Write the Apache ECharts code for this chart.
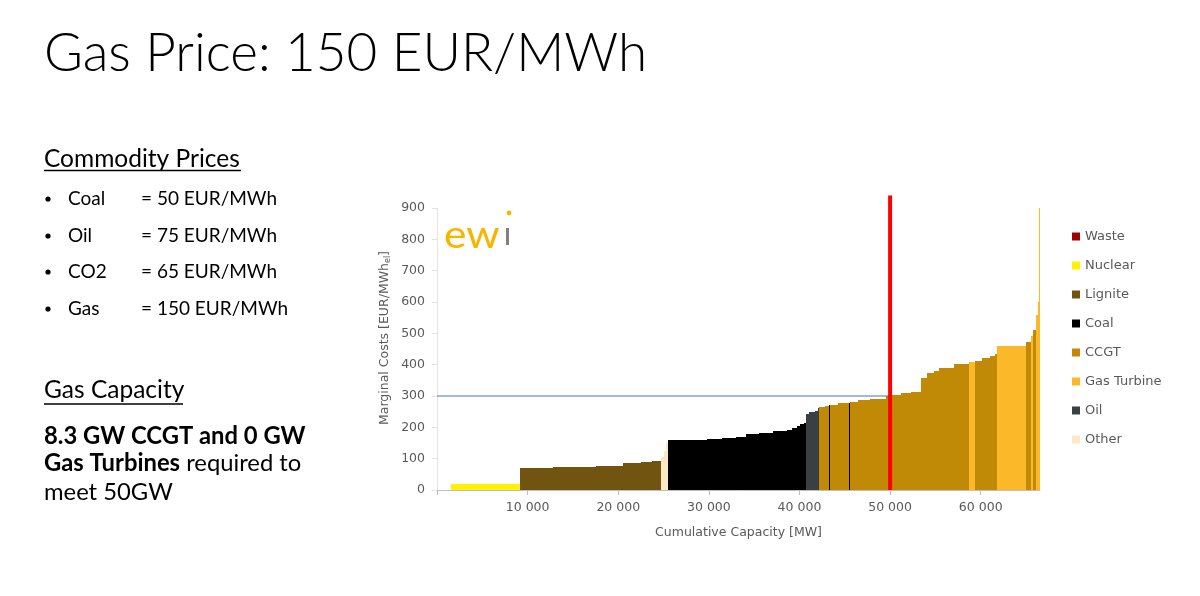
<!DOCTYPE html>
<html><head><meta charset="utf-8">
<script src="https://cdn.jsdelivr.net/npm/echarts@6/dist/echarts.min.js"></script>
<style>html,body{margin:0;padding:0;background:#fff}#c{width:1200px;height:596px}</style>
</head><body><div id="c"></div>
<script>
// Each block: [fromMW, toMW, marginal cost EUR/MWh]
const techNames = ['Waste', 'Nuclear', 'Lignite', 'Coal', 'CCGT', 'Gas Turbine', 'Oil', 'Other'];
const waste = [];
const nuclear = [[1600, 9130, 18]];
const lignite = [
  [9130, 10500, 69], [10500, 12800, 70], [12800, 15000, 73], [15000, 17500, 74],
  [17500, 20500, 76], [20500, 21000, 85], [21000, 22500, 87], [22500, 23700, 89], [23700, 24700, 93]
];
const other = [[24700, 25000, 105], [25000, 25250, 125], [25250, 25450, 150]];
const coal = [
  [25450, 27500, 158], [27500, 29800, 160], [29800, 31500, 163], [31500, 33000, 166],
  [33000, 34100, 169], [34100, 35500, 178], [35500, 37100, 182], [37100, 38600, 187],
  [38600, 39200, 192], [39200, 39700, 198], [39700, 40100, 203], [40100, 40450, 210], [40450, 40700, 215],
  [43300, 43400, 270], [45500, 45600, 279], [49500, 49580, 293], [51150, 51250, 305]
];
const oil = [[40700, 41000, 242], [41000, 41700, 248], [41700, 42000, 253], [42000, 42200, 262]];
const ccgt = [
  [42200, 42800, 265], [42800, 43300, 268], [43400, 44200, 272], [44200, 45500, 277],
  [45600, 46500, 282], [46500, 47800, 287], [47800, 49500, 292], [49580, 50200, 300],
  [50200, 51150, 303], [51250, 52300, 308], [52300, 53400, 314], [53400, 54100, 358],
  [54100, 54800, 372], [54800, 55400, 380], [55400, 57000, 390], [57000, 58700, 402],
  [59400, 60100, 412], [60100, 61000, 420], [61000, 61550, 428], [61550, 61830, 435],
  [65000, 65600, 472], [65800, 66100, 510]
];
const gasTurbine = [
  [58700, 59400, 408], [61830, 65000, 460], [65600, 65800, 490],
  [66100, 66350, 560], [66350, 66460, 600], [66460, 66540, 900]
];
const demandMW = 50000;
const priceAtDemand = 300;
const xMax = 66540;

const colors = {
  'Waste': '#A00000', 'Nuclear': '#FFF200', 'Lignite': '#705410', 'Coal': '#000000',
  'CCGT': '#C08A06', 'Gas Turbine': '#FBB829', 'Oil': '#3A3F44', 'Other': '#FCE8C7'
};
const dataByTech = {
  'Waste': waste, 'Nuclear': nuclear, 'Lignite': lignite, 'Coal': coal,
  'CCGT': ccgt, 'Gas Turbine': gasTurbine, 'Oil': oil, 'Other': other
};

const chart = echarts.init(document.getElementById('c'), null, {renderer: 'canvas'});
const axisFont = 'DejaVu Sans';
const grey = '#595959';

function makeRender(color) {
  return function (params, api) {
    const p0 = api.coord([api.value(0), api.value(2)]);
    const p1 = api.coord([api.value(1), 0]);
    const x0 = Math.round(p0[0]);
    const x1 = Math.max(x0 + 1, Math.round(p1[0]));
    const y0 = Math.round(p0[1]);
    const y1 = Math.round(p1[1]);
    return {
      type: 'rect',
      shape: {x: x0, y: y0, width: x1 - x0, height: y1 - y0},
      style: {fill: color}
    };
  };
}

const series = techNames.map(n => ({
  type: 'custom', name: n, data: dataByTech[n],
  encode: {x: [0, 1], y: 2},
  itemStyle: {color: colors[n]},
  renderItem: makeRender(colors[n]),
  silent: true
}));
series.push({
  type: 'line', name: 'price', data: [[0, priceAtDemand], [demandMW, priceAtDemand]],
  showSymbol: false, lineStyle: {color: '#4472C4', width: 1}, z: 4, silent: true
});
series.push({
  type: 'line', name: 'demand', data: [[demandMW, 0], [demandMW, 940]],
  showSymbol: false, clip: false, lineStyle: {color: '#FF0000', width: 4}, z: 5, silent: true
});

const fmt = v => v === 0 ? '' : String(v).replace(/\B(?=(\d{3})+(?!\d))/g, ' ');
const bodyFont = 'Lato';

chart.setOption({
  backgroundColor: '#ffffff',
  animation: false,
  grid: {left: 437, right: 160, top: 208, bottom: 106, containLabel: false},
  xAxis: {
    type: 'value', min: 0, max: xMax, interval: 10000,
    name: 'Cumulative Capacity [MW]', nameLocation: 'middle', nameGap: 36,
    nameTextStyle: {color: grey, fontFamily: axisFont, fontSize: 12.5},
    axisLine: {show: true, lineStyle: {color: '#BFBFBF'}},
    axisTick: {show: true, length: 5, lineStyle: {color: '#BFBFBF'}},
    axisLabel: {color: grey, fontFamily: axisFont, fontSize: 12.5, margin: 11, formatter: fmt, showMaxLabel: false},
    splitLine: {show: false}
  },
  yAxis: {
    type: 'value', min: 0, max: 900, interval: 100,
    axisLine: {show: true, lineStyle: {color: '#E3E3E3'}},
    axisTick: {show: true, length: 5, lineStyle: {color: '#E3E3E3'}},
    axisLabel: {color: grey, fontFamily: axisFont, fontSize: 12.5, margin: 12},
    splitLine: {show: false}
  },
  legend: {
    orient: 'vertical', left: 1067, top: 225, itemWidth: 8, itemHeight: 8, itemGap: 16,
    icon: 'rect', data: techNames,
    textStyle: {color: grey, fontFamily: axisFont, fontSize: 13}
  },
  series: series,
  graphic: [
    {type: 'text', left: 44, top: 27, style: {text: 'Gas Price: 150 EUR/MWh', fontFamily: bodyFont, fontWeight: 300, fontSize: 53, fill: '#000'}},
    {type: 'text', left: 44, top: 147, style: {text: 'Commodity Prices', fontFamily: bodyFont, fontSize: 24.5, fill: '#000'}},
    {type: 'line', shape: {x1: 44, y1: 170.5, x2: 241, y2: 170.5}, style: {stroke: '#000', lineWidth: 1.5}},
    {type: 'circle', shape: {cx: 48, cy: 199, r: 2.6}, style: {fill: '#000'}},
    {type: 'circle', shape: {cx: 48, cy: 236, r: 2.6}, style: {fill: '#000'}},
    {type: 'circle', shape: {cx: 48, cy: 272, r: 2.6}, style: {fill: '#000'}},
    {type: 'circle', shape: {cx: 48, cy: 309, r: 2.6}, style: {fill: '#000'}},
    {type: 'text', left: 68, top: 189, style: {text: 'Coal', fontFamily: bodyFont, fontSize: 19, fill: '#000'}},
    {type: 'text', left: 68, top: 226, style: {text: 'Oil', fontFamily: bodyFont, fontSize: 19, fill: '#000'}},
    {type: 'text', left: 68, top: 262, style: {text: 'CO2', fontFamily: bodyFont, fontSize: 19, fill: '#000'}},
    {type: 'text', left: 68, top: 299, style: {text: 'Gas', fontFamily: bodyFont, fontSize: 19, fill: '#000'}},
    {type: 'text', left: 141, top: 189, style: {text: '= 50 EUR/MWh', fontFamily: bodyFont, fontSize: 19, fill: '#000'}},
    {type: 'text', left: 141, top: 226, style: {text: '= 75 EUR/MWh', fontFamily: bodyFont, fontSize: 19, fill: '#000'}},
    {type: 'text', left: 141, top: 262, style: {text: '= 65 EUR/MWh', fontFamily: bodyFont, fontSize: 19, fill: '#000'}},
    {type: 'text', left: 141, top: 299, style: {text: '= 150 EUR/MWh', fontFamily: bodyFont, fontSize: 19, fill: '#000'}},
    {type: 'text', left: 44, top: 378, style: {text: 'Gas Capacity', fontFamily: bodyFont, fontSize: 24.5, fill: '#000'}},
    {type: 'line', shape: {x1: 44, y1: 404, x2: 183, y2: 404}, style: {stroke: '#000', lineWidth: 1.5}},
    {type: 'text', left: 44, top: 424, style: {text: '8.3 GW CCGT and 0 GW', fontFamily: bodyFont, fontWeight: 'bold', fontSize: 23.8, fill: '#000'}},
    {type: 'text', left: 44, top: 451, style: {
      text: '{b|Gas Turbines} {n|required to}', fontFamily: bodyFont, fontSize: 23.8, fill: '#000',
      rich: {b: {fontFamily: bodyFont, fontWeight: 'bold', fontSize: 23.8, fill: '#000'}, n: {fontFamily: bodyFont, fontSize: 23.8, fill: '#000'}}
    }},
    {type: 'text', left: 44, top: 480, style: {text: 'meet 50GW', fontFamily: bodyFont, fontSize: 23.8, fill: '#000'}},
    // axis title with subscript
    {type: 'text', x: 385, y: 338, rotation: Math.PI / 2, style: {
      text: '{m|Marginal Costs [EUR/MWh}{s|el}{m|]}', align: 'center', verticalAlign: 'middle',
      rich: {m: {fontFamily: axisFont, fontSize: 12.5, fill: grey}, s: {fontFamily: axisFont, fontSize: 8, fill: grey, padding: [6, 0, 0, 0]}}
    }},
    // logo
    {type: 'text', x: 444, y: 236, scaleX: 1.12, style: {text: 'ew', fontFamily: 'Lato', fontWeight: 'normal', fontSize: 38, fill: '#F7B500', verticalAlign: 'middle'}},
    {type: 'rect', shape: {x: 506, y: 228, width: 3, height: 17}, style: {fill: '#808080'}},
    {type: 'circle', shape: {cx: 509, cy: 213, r: 2.4}, style: {fill: '#F7B500'}}
  ]
});
</script>
</body></html>
